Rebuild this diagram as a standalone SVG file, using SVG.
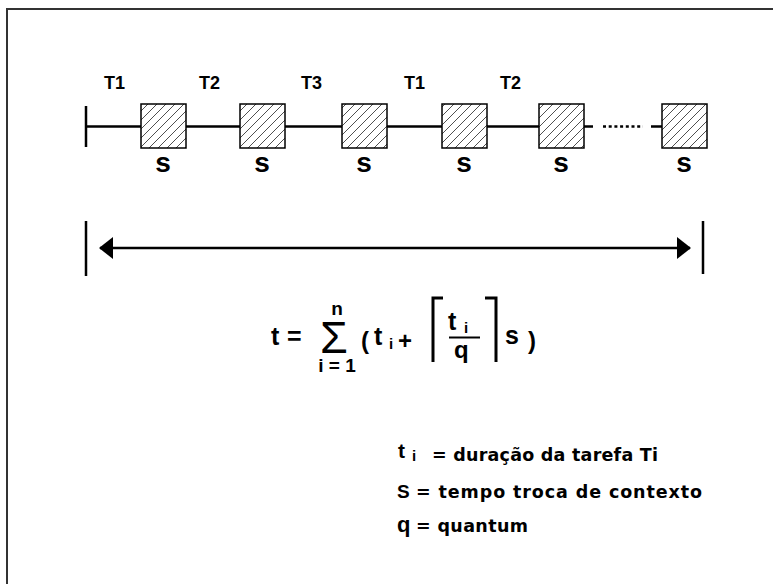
<svg xmlns="http://www.w3.org/2000/svg" width="773" height="584" viewBox="0 0 773 584">
<defs>
<pattern id="hatch" patternUnits="userSpaceOnUse" width="9" height="9">
<path d="M0,9 L9,0 M-2,2 L2,-2 M7,11 L11,7" stroke="#222" stroke-width="0.8" fill="none"/>
</pattern>
<marker id="ah" viewBox="0 0 14 22" refX="13" refY="11" markerWidth="14" markerHeight="22" markerUnits="userSpaceOnUse" orient="auto-start-reverse">
<path d="M0,0 L14,11 L0,22 Z" fill="#000"/>
</marker>
</defs>
<style>
.b{font-family:"Liberation Sans",Arial,sans-serif;font-weight:bold;fill:#000}
.r{font-family:"Liberation Sans",Arial,sans-serif;fill:#000}
.box{fill:url(#hatch);stroke:#000;stroke-width:1.5}
.ln{stroke:#000;stroke-width:2.5;fill:none}
.tl{font-size:18px}
.sl{font-size:28px;text-anchor:middle}
.lg{font-family:"DejaVu Sans",Verdana,sans-serif;font-weight:bold;font-size:17.5px;fill:#000}
</style>
<rect x="0" y="0" width="773" height="584" fill="#fff"/>
<rect x="7" y="9" width="800" height="620" fill="none" stroke="#333" stroke-width="2"/>

<g id="connectors">
<path class="ln" d="M86,106 V147"/>
<path class="ln" d="M86,126.5 H141 M186,126.5 H240 M285,126.5 H342 M387,126.5 H442 M487,126.5 H539 M584,126.5 H593 M651,126.5 H662"/>
<path d="M603,126.5 H643" stroke="#000" stroke-width="2.5" stroke-dasharray="3,2.7" fill="none"/>
<path class="ln" d="M86,221 V276 M703,221 V274"/>
<path class="ln" d="M100,248 H690" marker-start="url(#ah)" marker-end="url(#ah)"/>
</g>

<g id="timeline-labels">
<text class="b tl" x="104" y="89">T1</text>
<text class="b tl" x="199" y="89">T2</text>
<text class="b tl" x="301" y="89">T3</text>
<text class="b tl" x="404" y="89">T1</text>
<text class="b tl" x="500" y="89">T2</text>
</g>

<g id="s1"><rect class="box" x="141" y="104" width="45" height="44"/><text class="b sl" x="163" y="172">s</text></g>
<g id="s2"><rect class="box" x="240" y="104" width="45" height="44"/><text class="b sl" x="262" y="172">s</text></g>
<g id="s3"><rect class="box" x="342" y="104" width="45" height="44"/><text class="b sl" x="364" y="172">s</text></g>
<g id="s4"><rect class="box" x="442" y="104" width="45" height="44"/><text class="b sl" x="464" y="172">s</text></g>
<g id="s5"><rect class="box" x="539" y="104" width="45" height="44"/><text class="b sl" x="561" y="172">s</text></g>
<g id="s6"><rect class="box" x="662" y="104" width="45" height="44"/><text class="b sl" x="684" y="172">s</text></g>

<g id="formula">
<text class="b" x="271" y="345" font-size="25">t</text>
<text class="b" x="287" y="345" font-size="25">=</text>
<text class="r" x="334" y="353" font-size="45" text-anchor="middle">Σ</text>
<text class="b" x="337" y="315" font-size="19" text-anchor="middle">n</text>
<text class="r" x="337" y="372" font-size="19" text-anchor="middle" font-weight="bold">i = 1</text>
<text class="b" x="361" y="349" font-size="24">(</text>
<text class="b" x="374" y="345" font-size="25">t</text>
<text class="b" x="389" y="349" font-size="15">i</text>
<text class="b" x="398" y="349" font-size="24">+</text>
<path d="M433,362 V298 H443 M485,298 H496 V362" stroke="#000" stroke-width="3" fill="none"/>
<text class="b" x="448" y="330" font-size="25">t</text>
<text class="b" x="464" y="333" font-size="15">i</text>
<path d="M449,337.5 H480" stroke="#000" stroke-width="2"/>
<text class="b" x="454" y="358" font-size="24">q</text>
<text class="b" x="505" y="344" font-size="25">s</text>
<text class="b" x="528" y="349" font-size="24">)</text>
</g>

<g id="legend">
<text class="b" x="398" y="458" font-size="21">t</text>
<text class="b" x="412" y="461" font-size="15">i</text>
<text class="lg" x="432" y="461" textLength="226" lengthAdjust="spacing">= duração da tarefa Ti</text>
<text class="b" x="397" y="498" font-size="19">S</text>
<text class="lg" x="416" y="498" textLength="286" lengthAdjust="spacing">= tempo troca de contexto</text>
<text class="b" x="397" y="532" font-size="22">q</text>
<text class="lg" x="416" y="532" textLength="112" lengthAdjust="spacing">= quantum</text>
</g>
</svg>
